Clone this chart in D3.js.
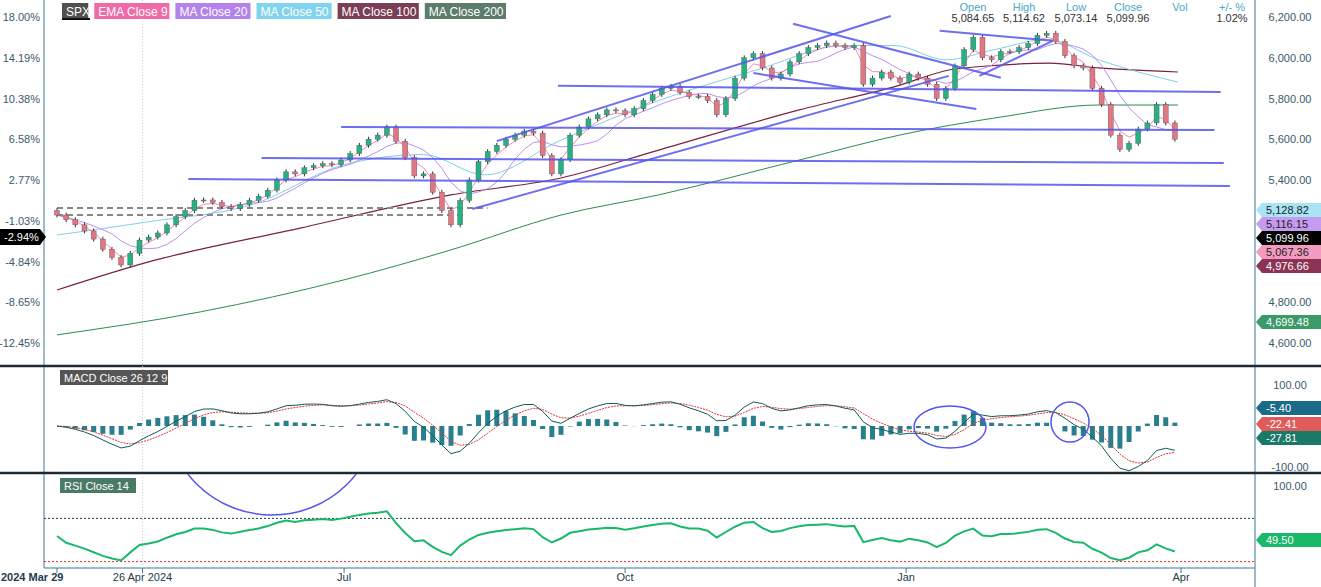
<!DOCTYPE html><html><head><meta charset="utf-8">
<script src="https://cdn.jsdelivr.net/npm/d3@7"></script>
<style>body{margin:0;background:#fff}text{font-family:"Liberation Sans",Arial,sans-serif}</style></head>
<body><svg id="c" width="1321" height="587"></svg>
<script>
const startDate = "2024-03-29", stepDays = 3;
const closes = [5228,5205,5180,5150,5110,5060,5020,4983,5040,5105,
5120,5140,5180,5220,5250,5300,5302,5290,5270,5260,
5280,5300,5320,5350,5400,5440,5430,5460,5470,5480,
5475,5498,5530,5570,5600,5620,5660,5590,5510,5420,
5430,5340,5250,5180,5300,5400,5490,5540,5570,5600,
5620,5640,5630,5520,5430,5500,5620,5660,5700,5720,
5744,5740,5720,5750,5790,5820,5850,5860,5830,5810,
5810,5790,5720,5800,5900,6000,6020,5950,5900,5920,
5980,6020,6050,6060,6072,6060,6050,6060,5870,5900,
5930,5900,5880,5920,5900,5870,5800,5850,5960,6040,
6100,6000,5990,6030,6030,6050,6070,6110,6120,6080,
6010,5960,5950,5850,5770,5620,5550,5580,5650,5680,
5770,5680,5600];
const ma50Dates = ["2024-03-29","2024-04-28","2024-06-01","2024-07-01","2024-07-27","2024-08-16","2024-09-10","2024-10-12","2024-11-13","2024-12-12","2024-12-28","2025-01-14","2025-01-30","2025-02-16","2025-03-05","2025-03-31"];
const ma50Vals = [5130,5195,5280,5475,5525,5425,5596,5790,5940,6060,6060,5990,6040,6090,5990,5880];
const ma100Dates = ["2024-03-29","2024-04-28","2024-06-17","2024-08-05","2024-09-10","2024-10-12","2024-11-27","2024-12-30","2025-01-15","2025-02-01","2025-02-17","2025-03-05","2025-03-31"];
const ma100Vals = [4860,4998,5165,5327,5410,5547,5744,5866,5940,5964,5974,5950,5930];
const ma200Dates = ["2024-03-29","2024-05-15","2024-07-01","2024-08-05","2024-09-10","2024-10-12","2024-11-27","2024-12-30","2025-02-01","2025-03-05","2025-03-31"];
const ma200Vals = [4640,4753,4910,5057,5228,5327,5498,5621,5709,5768,5768];
const trendLines = [
 ["2024-05-11",5405,"2025-04-17",5371],["2024-06-04",5508,"2025-04-15",5483],
 ["2024-06-30",5660,"2025-04-12",5645],["2024-09-09",5862,"2025-04-14",5832],
 ["2024-08-12",5258,"2025-01-15",5911],["2024-08-20",5591,"2024-12-27",6205],
 ["2024-11-25",6167,"2025-02-01",5902],["2024-11-12",5925,"2025-01-24",5749],
 ["2025-01-12",6132,"2025-02-18",6083],["2025-01-25",5911,"2025-02-18",6083]];
const dashedLines = [["2024-03-29",5263,"2024-08-17",5263],["2024-03-29",5228,"2024-08-10",5228]];
const priceTicks = [6200,6000,5800,5600,5400,4800,4600];
const pctTicks = ["18.00%","14.19%","10.38%","6.58%","2.77%","-1.03%","-4.84%","-8.65%","-12.45%"];
const pctPrices = [6200,6000,5800,5600,5400,5200,5000,4800,4600];
const legendNames = ["SPX","EMA Close 9","MA Close 20","MA Close 50","MA Close 100","MA Close 200"];
const legendColors = ["#505050","#f06aa8","#b482ec","#80d4ee","#7a3e55","#5b7d6a"];
const xLabels = [["2024-03-29","2024 Mar 29"],["2024-04-26","26 Apr 2024"],["2024-07-01","Jul"],["2024-10-01","Oct"],["2025-01-01","Jan"],["2025-04-01","Apr"]];

const P = d3.timeParse("%Y-%m-%d");
const svg = d3.select("#c");
const L = 44, R = 1255;
const x = d3.scaleTime().domain([P("2024-03-29"), P("2025-04-01")]).range([57,1181]);
const y = d3.scaleLinear().domain([4600,6200]).range([343,17]);
const yM = d3.scaleLinear().domain([-100,100]).range([467,385]);
const yR = d3.scaleLinear().domain([0,100]).range([594,486]);
const dates = closes.map((c,i)=>d3.timeDay.offset(P(startDate), i*stepDays));

svg.append("line").attr("x1",L).attr("x2",L).attr("y1",0).attr("y2",568).attr("stroke","#3a7a9a");
svg.append("line").attr("x1",R).attr("x2",R).attr("y1",0).attr("y2",587).attr("stroke","#3a7a9a");
[366,473].forEach(v=>svg.append("line").attr("x1",0).attr("x2",1321).attr("y1",v).attr("y2",v).attr("stroke","#1f2a33").attr("stroke-width",2.5));
svg.append("line").attr("x1",L).attr("x2",R).attr("y1",568).attr("y2",568).attr("stroke","#3a7a9a");
svg.append("line").attr("x1",x(P("2024-04-26"))).attr("x2",x(P("2024-04-26"))).attr("y1",0).attr("y2",568).attr("stroke","#ccc").attr("stroke-dasharray","1,2");

priceTicks.forEach(p=>svg.append("text").attr("x",1290).attr("y",y(p)+4).attr("text-anchor","middle").attr("font-size",11).attr("fill","#3a5a6a").text(d3.format(",.2f")(p)));
pctPrices.forEach((p,i)=>svg.append("text").attr("x",40).attr("y",y(p)+4).attr("text-anchor","end").attr("font-size",11).attr("fill","#3a5a6a").text(pctTicks[i]));

svg.append("clipPath").attr("id","cm").append("rect").attr("x",L).attr("y",0).attr("width",R-L).attr("height",365);
const g = svg.append("g").attr("clip-path","url(#cm)");

const lineP = (ds,vs,col,w)=>g.append("path").datum(ds.map((d,i)=>[P(d),vs[i]])).attr("d",d3.line().x(d=>x(d[0])).y(d=>y(d[1])).curve(d3.curveMonotoneX)).attr("fill","none").attr("stroke",col).attr("stroke-width",w);
lineP(ma200Dates,ma200Vals,"#2e8a4e",1);
lineP(ma100Dates,ma100Vals,"#7a2040",1.2);
lineP(ma50Dates,ma50Vals,"#7fd0e8",1);
const ema=(arr,n)=>{const k=2/(n+1);let e=arr[0];return arr.map(v=>e=v*k+e*(1-k));};
const sma=(arr,n)=>arr.map((v,i)=>d3.mean(arr.slice(Math.max(0,i-n+1),i+1)));
const lineC=(vals,col)=>g.append("path").datum(vals).attr("d",d3.line().x((d,i)=>x(dates[i])).y(d=>y(d))).attr("fill","none").attr("stroke",col).attr("stroke-width",0.9);
lineC(sma(closes,7),"#b482ec");
lineC(ema(closes,3),"#f07ab0");

dashedLines.forEach(s=>g.append("line").attr("x1",x(P(s[0]))).attr("y1",y(s[1])).attr("x2",x(P(s[2]))).attr("y2",y(s[3])).attr("stroke","#888").attr("stroke-width",2).attr("stroke-dasharray","6,4"));

const cw=5;
closes.forEach((c,i)=>{
 const o = i?closes[i-1]:5250, up=c>=o;
 const col= up?"#27b084":"#e27784";
 const hi=Math.max(o,c)+12, lo=Math.min(o,c)-12;
 g.append("line").attr("x1",x(dates[i])).attr("x2",x(dates[i])).attr("y1",y(hi)).attr("y2",y(lo)).attr("stroke","#333").attr("stroke-width",1);
 g.append("rect").attr("x",x(dates[i])-cw/2).attr("width",cw).attr("y",y(Math.max(o,c))).attr("height",Math.max(1,Math.abs(y(o)-y(c)))).attr("fill",col).attr("stroke","#555").attr("stroke-width",0.4);
});
trendLines.forEach(s=>g.append("line").attr("x1",x(P(s[0]))).attr("y1",y(s[1])).attr("x2",x(P(s[2]))).attr("y2",y(s[3])).attr("stroke","#5555ee").attr("stroke-width",2).attr("opacity",0.85));

let lx=62;
legendNames.forEach((n,i)=>{
 const w=n.length*6.1+8;
 svg.append("rect").attr("x",lx).attr("y",3).attr("width",w).attr("height",16).attr("fill",legendColors[i]);
 svg.append("text").attr("x",lx+4).attr("y",16).attr("font-size",12).attr("fill","#fff").text(n);
 lx+=w+6;
});
svg.append("rect").attr("x",62).attr("y",18).attr("width",28).attr("height",2).attr("fill","#111");
[["Open","5,084.65",973],["High","5,114.62",1024],["Low","5,073.14",1076],["Close","5,099.96",1128],["Vol","",1180],["+/- %","1.02%",1232]].forEach(h=>{
 svg.append("text").attr("x",h[2]).attr("y",11).attr("text-anchor","middle").attr("font-size",11).attr("fill","#4aa8c8").text(h[0]);
 svg.append("text").attr("x",h[2]).attr("y",22).attr("text-anchor","middle").attr("font-size",11).attr("fill","#333").text(h[1]);
});
const tag=(yy,txt,bg,fg,side)=>{
 if(side==="r"){svg.append("path").attr("d",`M${R+1},${yy} L${R+7},${yy-7} L1321,${yy-7} L1321,${yy+7} L${R+7},${yy+7}Z`).attr("fill",bg);
 svg.append("text").attr("x",1266).attr("y",yy+4).attr("font-size",11).attr("fill",fg).text(txt);}
 else {svg.append("path").attr("d",`M0,${yy-8} L40,${yy-8} L46,${yy} L40,${yy+8} L0,${yy+8}Z`).attr("fill",bg);
 svg.append("text").attr("x",4).attr("y",yy+4).attr("font-size",11).attr("fill",fg).text(txt);}
};
[[210,"5,128.82","#a8e4f4","#222"],[224,"5,116.15","#c79af2","#222"],[238,"5,099.96","#000","#fff"],[252,"5,067.36","#f39ac0","#222"],[266,"4,976.66","#8a3355","#fff"],[322,"4,699.48","#3a9a68","#fff"]].forEach(t=>tag(t[0],t[1],t[2],t[3],"r"));
tag(237,"-2.94%","#000","#fff","l");

const macd = ema(closes,6).map((v,i)=>v-ema(closes,12)[i]);
const sig = ema(macd,4);
const gm = svg.append("g");
macd.forEach((m,i)=>gm.append("rect").attr("x",x(dates[i])-2.5).attr("width",5).attr("y",Math.min(yM(0),yM(1.6*(m-sig[i])))).attr("height",Math.abs(yM(1.6*(m-sig[i]))-yM(0))).attr("fill","#2a7f8f"));
gm.append("path").datum(sig).attr("d",d3.line().x((d,i)=>x(dates[i])).y(d=>yM(d))).attr("fill","none").attr("stroke","#e03030").attr("stroke-width",1).attr("stroke-dasharray","2,1");
gm.append("path").datum(macd).attr("d",d3.line().x((d,i)=>x(dates[i])).y(d=>yM(d))).attr("fill","none").attr("stroke","#0d5a5a").attr("stroke-width",1);
svg.append("rect").attr("x",60).attr("y",370).attr("width",108).attr("height",15).attr("fill","#555");
svg.append("text").attr("x",64).attr("y",382).attr("font-size",11).attr("fill","#fff").text("MACD Close 26 12 9");
[[385,"100.00"],[467,"-100.00"]].forEach(t=>svg.append("text").attr("x",1290).attr("y",t[0]+4).attr("text-anchor","middle").attr("font-size",11).attr("fill","#3a5a6a").text(t[1]));
tag(408,"-5.40","#1a6a8a","#fff","r");tag(424,"-22.41","#e05a5a","#fff","r");tag(438,"-27.81","#1a7a6a","#fff","r");
[[950,427,36,21],[1070,422,19,20]].forEach(e=>svg.append("ellipse").attr("cx",e[0]).attr("cy",e[1]).attr("rx",e[2]).attr("ry",e[3]).attr("fill","none").attr("stroke","#5555ee").attr("stroke-width",1.5));

const rsi=(arr,n)=>{let ag=12,al=12;return arr.map((v,i)=>{if(!i)return 55;const d=v-arr[i-1];ag=(ag*(n-1)+Math.max(d,0))/n;al=(al*(n-1)+Math.max(-d,0))/n;return 100-100/(1+ag/al);});};
const rv=rsi(closes,14).map(v=>50+(v-50)*0.75);
svg.append("clipPath").attr("id","cr").append("rect").attr("x",L).attr("y",474).attr("width",R-L).attr("height",94);
const gr=svg.append("g").attr("clip-path","url(#cr)");
gr.append("line").attr("x1",L).attr("x2",R).attr("y1",yR(70)).attr("y2",yR(70)).attr("stroke","#1f3a4a").attr("stroke-dasharray","2,2");
gr.append("line").attr("x1",L).attr("x2",R).attr("y1",yR(30)).attr("y2",yR(30)).attr("stroke","#e03030").attr("stroke-dasharray","2,2");
gr.append("path").datum(rv).attr("d",d3.line().x((d,i)=>x(dates[i])).y(d=>yR(d))).attr("fill","none").attr("stroke","#1ab86a").attr("stroke-width",2);
gr.append("circle").attr("cx",272).attr("cy",408).attr("r",107).attr("fill","none").attr("stroke","#5555ee").attr("stroke-width",1.5);
svg.append("rect").attr("x",60).attr("y",478).attr("width",76).attr("height",15).attr("fill","#4a7a66");
svg.append("text").attr("x",64).attr("y",490).attr("font-size",11).attr("fill","#fff").text("RSI Close 14");
svg.append("text").attr("x",1290).attr("y",490).attr("text-anchor","middle").attr("font-size",11).attr("fill","#3a5a6a").text("100.00");
tag(540,"49.50","#1ab86a","#fff","r");

xLabels.forEach((l,i)=>{
 const xx=x(P(l[0]));
 svg.append("line").attr("x1",xx).attr("x2",xx).attr("y1",568).attr("y2",573).attr("stroke","#3a7a9a");
 svg.append("text").attr("x",i===0?xx-57+1:xx).attr("y",581).attr("text-anchor",i===0?"start":"middle").attr("font-size",11).attr("font-weight",i===0?"bold":"normal").attr("fill","#1f3a4a").text(l[1]);
});
</script></body></html>
